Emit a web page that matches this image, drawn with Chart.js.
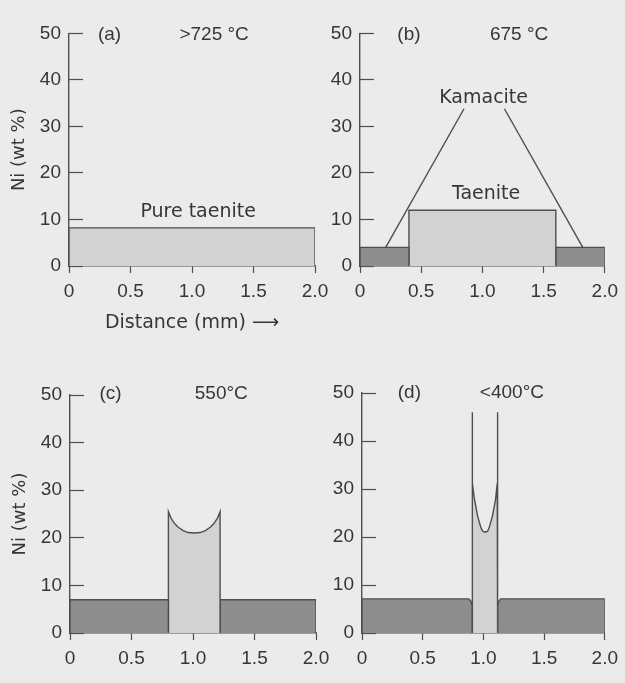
<!DOCTYPE html>
<html>
<head>
<meta charset="utf-8">
<script src="https://cdn.jsdelivr.net/npm/chart.js@4.4.0/dist/chart.umd.min.js"></script>
<style>
  html, body { margin: 0; padding: 0; background: #ebebeb; }
  #wrap { position: relative; width: 625px; height: 683px; overflow: hidden; }
  #wrap canvas { position: absolute; left: 0; top: 0; }
</style>
</head>
<body>
<div id="wrap">
  <canvas id="chart-a" width="625" height="683"></canvas>
  <canvas id="chart-b" width="625" height="683"></canvas>
  <canvas id="chart-c" width="625" height="683"></canvas>
  <canvas id="chart-d" width="625" height="683"></canvas>
</div>
<script>
// --- Axes ---
const X_TICKS = [0, 0.5, 1.0, 1.5, 2.0];
const X_TICK_LABELS = ['0', '0.5', '1.0', '1.5', '2.0'];
const Y_TICKS = [0, 10, 20, 30, 40, 50];

// --- (a) >725 °C ---
const aTaeniteX  = [0, 0, 2.0, 2.0];
const aTaeniteNi = [0, 8.2, 8.2, 0];
const aLabels = [['(a)', 0.33, 49.6], ['>725 °C', 1.18, 49.6], ['Pure taenite', 1.05, 11.5]];

// --- (b) 675 °C ---
const bKamLeftX   = [0, 0, 0.4, 0.4];
const bKamLeftNi  = [0, 4, 4, 0];
const bTaeniteX   = [0.4, 0.4, 1.6, 1.6];
const bTaeniteNi  = [0, 12, 12, 0];
const bKamRightX  = [1.6, 1.6, 2.0, 2.0];
const bKamRightNi = [0, 4, 4, 0];
const bPointerLX  = [0.85, 0.21];
const bPointerLNi = [33.8, 4];
const bPointerRX  = [1.18, 1.82];
const bPointerRNi = [33.8, 4];
const bLabels = [['(b)', 0.4, 49.6], ['675 °C', 1.3, 49.6], ['Kamacite', 1.01, 36.2], ['Taenite', 1.03, 15.5]];

// --- (c) 550 °C ---
const cKamLeftX   = [0, 0, 0.8, 0.8];
const cKamLeftNi  = [0, 7, 7, 0];
const cTaeniteX   = [0.8, 0.8, 0.82, 0.85, 0.88, 0.92, 0.96, 1.01, 1.06, 1.10, 1.14, 1.17, 1.20, 1.22, 1.22];
const cTaeniteNi  = [0, 25.5, 24.2, 23.0, 22.2, 21.5, 21.1, 21.0, 21.1, 21.5, 22.2, 23.0, 24.2, 25.5, 0];
const cKamRightX  = [1.22, 1.22, 2.0, 2.0];
const cKamRightNi = [0, 7, 7, 0];
const cLabels = [['(c)', 0.33, 50.3], ['550°C', 1.23, 50.3]];

// --- (d) <400 °C ---
const dKamLeftX   = [0, 0, 0.88, 0.898, 0.907, 0.907];
const dKamLeftNi  = [0, 7.1, 7.1, 6.6, 5.6, 0];
const dTaeniteX   = [0.907, 0.907, 0.907, 0.913, 0.927, 0.953, 0.98, 0.995, 1.015, 1.035, 1.047, 1.074, 1.1, 1.114, 1.117, 1.117, 1.117];
const dTaeniteNi  = [0, 46, 33.3, 31.2, 27.8, 24.3, 21.9, 21.2, 21.0, 21.2, 21.9, 24.3, 27.8, 31.2, 33.3, 46, 0];
const dKamRightX  = [1.117, 1.117, 1.126, 1.144, 2.0, 2.0];
const dKamRightNi = [0, 5.6, 6.6, 7.1, 7.1, 0];
const dLabels = [['(d)', 0.39, 50.0], ['<400°C', 1.235, 50.0]];

// --- Look ---
const NUM_FONT = '"Liberation Sans", Arial, sans-serif';   // digits / temperatures
const WORD_FONT = '"DejaVu Sans", "Liberation Sans", sans-serif'; // the wide lowercase words
const FONT_SIZE = 19;
const TEXT = '#363636';
const LINE = '#4e4e4e';
const LIGHT = '#d2d2d2';
const DARK = '#8d8d8d';
const W = 625, H = 683;

Chart.defaults.font.family = NUM_FONT;
Chart.defaults.font.size = FONT_SIZE;
Chart.defaults.color = TEXT;

const pts = (xs, ys) => xs.map((x, i) => ({ x, y: ys[i] }));

function region(xs, ys, fillColor) {
  return {
    data: pts(xs, ys),
    borderColor: LINE,
    borderWidth: 1.4,
    backgroundColor: fillColor,
    fill: fillColor ? 'origin' : false,
    pointRadius: 0,
    tension: 0,
    borderJoinStyle: 'miter',
  };
}

// text placed at data coordinates
const panelText = {
  id: 'panelText',
  afterDatasetsDraw(chart, args, opts) {
    const { ctx, scales: { x, y } } = chart;
    ctx.save();
    ctx.fillStyle = TEXT;
    ctx.textAlign = 'center';
    ctx.textBaseline = 'middle';
    (opts.items || []).forEach(([t, vx, vy]) => {
      const wordy = /[a-z]{3,}/i.test(t);
      ctx.font = `${FONT_SIZE}px ${wordy ? WORD_FONT : NUM_FONT}`;
      ctx.fillText(t, x.getPixelForValue(vx), y.getPixelForValue(vy));
    });
    ctx.restore();
  }
};

function makePanel(id, area, datasets, labels, yTitle, xTitle) {
  const yW = 69;
  const xH = xTitle ? 68 : 46;
  return new Chart(document.getElementById(id), {
    type: 'line',
    data: { datasets },
    plugins: [panelText],
    options: {
      responsive: false,
      animation: false,
      layout: {
        padding: {
          left: area.left - yW,
          top: area.top,
          right: W - area.right,
          bottom: H - area.bottom - xH,
        }
      },
      plugins: {
        legend: { display: false },
        tooltip: { enabled: false },
        panelText: { items: labels },
      },
      scales: {
        x: {
          type: 'linear',
          min: 0, max: 2,
          afterBuildTicks: s => { s.ticks = X_TICKS.map(v => ({ value: v })); },
          afterFit: s => { s.height = xH; },
          ticks: {
            color: TEXT,
            padding: 7,
            maxRotation: 0,
            callback: (v, i) => X_TICK_LABELS[i],
          },
          grid: { drawOnChartArea: false, tickLength: 7, color: LINE, tickColor: LINE, tickWidth: 1.2 },
          border: { display: true, color: LINE, width: 1.4 },
          title: {
            display: !!xTitle,
            text: xTitle || '',
            color: TEXT,
            font: { size: FONT_SIZE, family: WORD_FONT },
            padding: { top: 0, bottom: 0 },
          },
        },
        y: {
          type: 'linear',
          min: 0, max: 50,
          afterBuildTicks: s => { s.ticks = Y_TICKS.map(v => ({ value: v })); },
          afterFit: s => { s.width = yW; },
          ticks: { color: TEXT, padding: 22 },
          // negative tick length -> tick marks point into the plot
          grid: { drawOnChartArea: false, tickLength: -14, color: LINE, tickColor: LINE, tickWidth: 1.2 },
          border: { display: true, color: LINE, width: 1.4 },
          title: {
            display: !!yTitle,
            text: yTitle || '',
            color: TEXT,
            font: { size: 18, family: WORD_FONT },
            padding: { top: 9, bottom: 0 },
          },
        }
      }
    }
  });
}

makePanel('chart-a', { left: 69, right: 315, top: 29, bottom: 266 }, [
  region(aTaeniteX, aTaeniteNi, LIGHT),
], aLabels, 'Ni (wt %)', 'Distance (mm) \u27F6');

makePanel('chart-b', { left: 360, right: 607, top: 29, bottom: 266 }, [
  region(bPointerLX, bPointerLNi, null),
  region(bPointerRX, bPointerRNi, null),
  region(bKamLeftX, bKamLeftNi, DARK),
  region(bTaeniteX, bTaeniteNi, LIGHT),
  region(bKamRightX, bKamRightNi, DARK),
], bLabels, null, null);

makePanel('chart-c', { left: 70, right: 316, top: 395, bottom: 633 }, [
  region(cKamLeftX, cKamLeftNi, DARK),
  region(cTaeniteX, cTaeniteNi, LIGHT),
  region(cKamRightX, cKamRightNi, DARK),
], cLabels, 'Ni (wt %)', null);

makePanel('chart-d', { left: 362, right: 610, top: 393, bottom: 633 }, [
  region(dKamLeftX, dKamLeftNi, DARK),
  region(dTaeniteX, dTaeniteNi, LIGHT),
  region(dKamRightX, dKamRightNi, DARK),
], dLabels, null, null);
</script>
</body>
</html>
